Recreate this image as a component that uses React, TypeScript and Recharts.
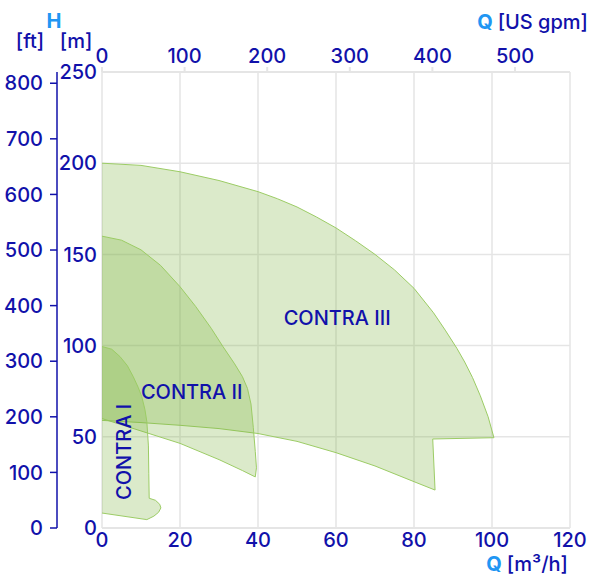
import { ComposedChart, Area, XAxis, YAxis, CartesianGrid, Label, ReferenceDot } from 'recharts'

const qTicks = [0, 20, 40, 60, 80, 100, 120]
const gpmTicks = [0, 100, 200, 300, 400, 500]
const mTicks = [0, 50, 100, 150, 200, 250]
const ftTicks = [0, 100, 200, 300, 400, 500, 600, 700, 800]

// operating ranges, outline traced clockwise from the top point on the H axis
const contra3 = [
  { q: 0, h: 200 },
  { q: 10, h: 198.8 },
  { q: 20, h: 195.3 },
  { q: 30, h: 190.5 },
  { q: 40, h: 184.4 },
  { q: 45, h: 180.5 },
  { q: 50, h: 176 },
  { q: 55, h: 170.5 },
  { q: 60, h: 164.5 },
  { q: 65, h: 157.5 },
  { q: 70, h: 150 },
  { q: 75, h: 141.5 },
  { q: 80, h: 131.4 },
  { q: 85, h: 118 },
  { q: 88, h: 108.5 },
  { q: 91, h: 98.5 },
  { q: 93, h: 91 },
  { q: 95, h: 82.5 },
  { q: 97, h: 72.5 },
  { q: 99, h: 61 },
  { q: 100.5, h: 49.5 },
  { q: 84.8, h: 48.8 },
  { q: 85.4, h: 20.8 },
  { q: 80, h: 25.4 },
  { q: 70, h: 34 },
  { q: 60, h: 41.3 },
  { q: 50, h: 47.5 },
  { q: 40, h: 51.8 },
  { q: 30, h: 54.5 },
  { q: 20, h: 56.3 },
  { q: 10, h: 57.8 },
  { q: 0, h: 59 },
]

const contra2 = [
  { q: 0, h: 160 },
  { q: 5, h: 157.8 },
  { q: 10, h: 152.5 },
  { q: 15, h: 144 },
  { q: 20, h: 132.3 },
  { q: 24, h: 121.5 },
  { q: 28, h: 109.5 },
  { q: 31, h: 99.5 },
  { q: 34, h: 90 },
  { q: 36, h: 83 },
  { q: 37.3, h: 76.5 },
  { q: 38.2, h: 68 },
  { q: 38.8, h: 55 },
  { q: 39.3, h: 42 },
  { q: 39.6, h: 33 },
  { q: 39.3, h: 28 },
  { q: 36, h: 31.5 },
  { q: 30, h: 37.5 },
  { q: 20, h: 46.4 },
  { q: 10, h: 53.2 },
  { q: 0, h: 60 },
]

const contra1 = [
  { q: 0, h: 99.5 },
  { q: 2.5, h: 98 },
  { q: 4.6, h: 94 },
  { q: 6.5, h: 89 },
  { q: 8, h: 83 },
  { q: 9.3, h: 77 },
  { q: 10.2, h: 72 },
  { q: 11, h: 65 },
  { q: 11.5, h: 58.3 },
  { q: 11.9, h: 45 },
  { q: 12, h: 30 },
  { q: 12.1, h: 16.3 },
  { q: 13.7, h: 15.2 },
  { q: 14.8, h: 13 },
  { q: 15.1, h: 11 },
  { q: 14.5, h: 8.6 },
  { q: 13.3, h: 6.5 },
  { q: 11.5, h: 4.6 },
  { q: 0, h: 8.2 },
]

const rangeLabels = [
  { name: 'CONTRA III', q: 60.3, h: 115, angle: 0 },
  { name: 'CONTRA II', q: 23, h: 74.5, angle: 0 },
  { name: 'CONTRA I', q: 5.6, h: 41.7, angle: -90 },
]

const Q_MAX = 120
const GPM_MAX = 566.6
const H_MAX = 250
const FT_MAX = H_MAX * 3.2808

const NAVY = '#1111aa'
const SKY = '#2196f3'
const FILL = '#7cb342'
const EDGE = '#9ccc65'
const GRID = '#e5e5e5'
const FONT = 'Inter, sans-serif'

const tickStyle = { fill: NAVY, fontSize: 20, fontWeight: 500, fontFamily: FONT }

// rows for the top (US gpm) axis, which has no series of its own
const gpmRows = gpmTicks.map((gpm) => ({ gpm }))

export default function App() {
  return (
    <div style={{ position: 'absolute', left: 0, top: 0 }}>
      <ComposedChart
        width={591}
        height={579}
        data={gpmRows}
        margin={{ top: 0, right: 21, bottom: 0, left: 0 }}
        style={{ fontFamily: FONT }}
      >
        <CartesianGrid
          xAxisId="q"
          yAxisId="head"
          stroke={GRID}
          strokeWidth={1.5}
          verticalValues={qTicks}
          horizontalValues={mTicks}
        />
        <XAxis
          xAxisId="q"
          dataKey="q"
          type="number"
          domain={[0, Q_MAX]}
          ticks={qTicks}
          orientation="bottom"
          height={51}
          stroke={GRID}
          strokeWidth={2}
          tickLine={false}
          tickSize={0}
          tickMargin={5}
          tick={tickStyle}
          interval={0}
        >
          <Label
            content={(props: any) => {
              const vb = props.viewBox
              return (
                <text
                  x={vb.x + vb.width - 2}
                  y={vb.y + 43}
                  textAnchor="end"
                  fontFamily={FONT}
                  fontSize={20}
                  fontWeight={500}
                >
                  <tspan fill={SKY} fontWeight={700}>Q</tspan>
                  <tspan fill={NAVY} dx={5}>[m³/h]</tspan>
                </text>
              )
            }}
          />
        </XAxis>
        <XAxis
          xAxisId="gpm"
          dataKey="gpm"
          type="number"
          domain={[0, GPM_MAX]}
          allowDataOverflow
          ticks={gpmTicks}
          orientation="top"
          height={72}
          stroke={GRID}
          strokeWidth={2}
          tickSize={5}
          tickMargin={4}
          tick={tickStyle}
          interval={0}
        >
          <Label
            content={(props: any) => {
              const vb = props.viewBox
              return (
                <text
                  x={588}
                  y={vb.y + 29}
                  textAnchor="end"
                  fontFamily={FONT}
                  fontSize={20}
                  fontWeight={500}
                >
                  <tspan fill={SKY} fontWeight={700}>Q</tspan>
                  <tspan fill={NAVY} dx={5}>[US gpm]</tspan>
                </text>
              )
            }}
          />
        </XAxis>
        <YAxis
          yAxisId="head"
          type="number"
          domain={[0, H_MAX]}
          ticks={mTicks}
          width={45}
          axisLine={false}
          tickLine={false}
          tickSize={3}
          tickMargin={2}
          tick={tickStyle}
          interval={0}
        />
        <YAxis
          yAxisId="headFeet"
          type="number"
          domain={[0, FT_MAX]}
          allowDataOverflow
          ticks={ftTicks}
          width={57}
          stroke={NAVY}
          strokeWidth={1.5}
          tickSize={7}
          tickMargin={7}
          tick={tickStyle}
          interval={0}
        >
          <Label
            content={() => (
              <g fontFamily={FONT} fontSize={20} fontWeight={500}>
                <text x={54} y={28} textAnchor="middle" fill={SKY} fontWeight={700}>
                  H
                </text>
                <text x={30} y={48} textAnchor="middle" fill={NAVY}>
                  [ft]
                </text>
                <text x={76} y={48} textAnchor="middle" fill={NAVY}>
                  [m]
                </text>
              </g>
            )}
          />
        </YAxis>

        {[contra3, contra2, contra1].map((range, i) => (
          <Area
            key={i}
            data={range}
            dataKey="h"
            xAxisId="q"
            yAxisId="head"
            type="linear"
            fill={FILL}
            fillOpacity={0.28}
            stroke={EDGE}
            strokeWidth={1}
            dot={false}
            activeDot={false}
            isAnimationActive={false}
          />
        ))}

        {rangeLabels.map((l) => (
          <ReferenceDot
            key={l.name}
            x={l.q}
            y={l.h}
            xAxisId="q"
            yAxisId="head"
            r={0}
            fill="none"
            stroke="none"
            label={{
              value: l.name,
              position: 'center',
              angle: l.angle,
              fill: NAVY,
              fontSize: 20,
              fontWeight: 500,
              fontFamily: FONT,
            }}
          />
        ))}
      </ComposedChart>
    </div>
  )
}
